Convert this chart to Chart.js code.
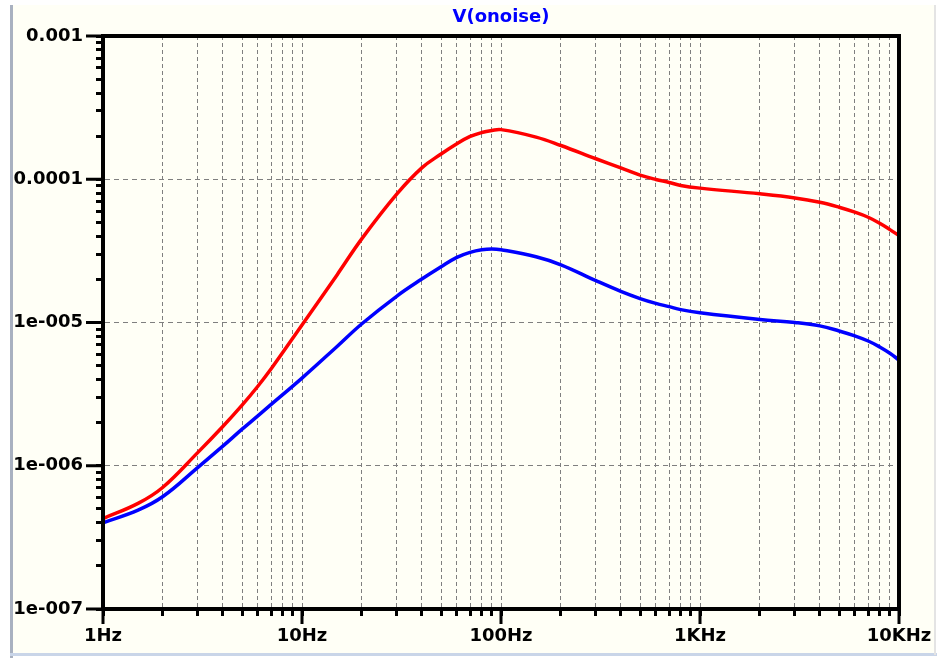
<!DOCTYPE html>
<html>
<head>
<meta charset="utf-8">
<title>V(onoise)</title>
<script src="https://cdn.jsdelivr.net/npm/chart.js@4.4.1/dist/chart.umd.min.js"></script>
<style>
  html, body { margin: 0; padding: 0; background: #ffffff; }
  #wrap { width: 937px; height: 658px; position: relative; }
</style>
</head>
<body>
<div id="wrap"><canvas id="noiseChart"></canvas></div>
<script>
// frequency points (Hz)
const freqHz = [1, 1.5, 2, 3, 4, 5, 6, 7, 10, 15, 20, 30, 40, 50, 60, 70, 80, 90, 100,
  150, 200, 300, 400, 500, 600, 700, 800, 1000, 2000, 3000, 4000, 5000, 6000, 7000, 8000, 9000, 10000];

// red trace
const noiseRed = [4.28e-7, 5.46e-7, 7.08e-7, 1.24e-6, 1.88e-6, 2.65e-6, 3.59e-6, 4.75e-6, 9.6e-6, 2.15e-5, 3.85e-5,
  7.9e-5, 1.2e-4, 1.5e-4, 1.77e-4, 1.99e-4, 2.12e-4, 2.19e-4, 2.22e-4,
  1.97e-4, 1.72e-4, 1.39e-4, 1.20e-4, 1.07e-4, 9.97e-5, 9.5e-5, 9.05e-5, 8.67e-5,
  7.91e-5, 7.41e-5, 6.91e-5, 6.38e-5, 5.89e-5, 5.43e-5, 4.93e-5, 4.45e-5, 4.04e-5];

// blue trace
const noiseBlue = [4.0e-7, 4.9e-7, 6.1e-7, 9.75e-7, 1.37e-6, 1.8e-6, 2.23e-6, 2.68e-6, 4.09e-6, 6.8e-6, 9.8e-6,
  1.53e-5, 2.01e-5, 2.45e-5, 2.85e-5, 3.09e-5, 3.22e-5, 3.26e-5, 3.22e-5,
  2.88e-5, 2.53e-5, 1.96e-5, 1.65e-5, 1.47e-5, 1.36e-5, 1.29e-5, 1.23e-5, 1.17e-5,
  1.05e-5, 1.0e-5, 9.47e-6, 8.73e-6, 8.06e-6, 7.43e-6, 6.75e-6, 6.1e-6, 5.47e-6];

// axis decades + their labels
const xDecades = [1, 10, 100, 1000, 10000];
const xLabels = ['1Hz', '10Hz', '100Hz', '1KHz', '10KHz'];
const yDecades = [1e-7, 1e-6, 1e-5, 1e-4, 1e-3];
const yLabels = ['1e-007', '1e-006', '1e-005', '0.0001', '0.001'];

const labelFont = { family: 'DejaVu Sans', size: 18, weight: 'bold' };
const gridGrey = '#7f7f7f';

// 1..9 ticks in every decade
function logTicks(decades) {
  const ticks = [];
  decades.forEach((d, i) => {
    ticks.push({ value: d, major: true });
    if (i < decades.length - 1) {
      for (let k = 2; k <= 9; k++) ticks.push({ value: d * k, major: false });
    }
  });
  return ticks;
}

function toPoints(ys) {
  return freqHz.map((f, i) => ({ x: f, y: ys[i] }));
}

// window background, frame and the long decade ticks
const plotFrame = {
  id: 'plotFrame',
  beforeDraw(chart) {
    const ctx = chart.ctx;
    const w = chart.width, h = chart.height;
    ctx.save();
    ctx.fillStyle = '#ffffff';
    ctx.fillRect(0, 0, w, h);
    ctx.fillStyle = '#fffff6';
    ctx.fillRect(12, 5, w - 14, h - 8);
    ctx.fillStyle = '#a9b1c0';
    ctx.fillRect(10, 5, 3, h - 5);
    ctx.fillStyle = '#c9d5e8';
    ctx.fillRect(10, h - 5, w - 10, 3);
    ctx.fillStyle = '#e4e4e4';
    ctx.fillRect(w - 3, 5, 2, h - 8);
    ctx.restore();
  },
  afterDraw(chart) {
    const ctx = chart.ctx;
    const a = chart.chartArea;
    const xs = chart.scales.x, ys = chart.scales.y;
    ctx.save();
    ctx.strokeStyle = '#000000';
    ctx.lineWidth = 4;
    ctx.strokeRect(a.left, a.top, a.right - a.left, a.bottom - a.top);
    ctx.lineWidth = 3;
    ctx.beginPath();
    xDecades.forEach(v => {
      const px = xs.getPixelForValue(v);
      ctx.moveTo(px, a.bottom);
      ctx.lineTo(px, a.bottom + 15);
    });
    yDecades.forEach(v => {
      const py = ys.getPixelForValue(v);
      ctx.moveTo(a.left - 17, py);
      ctx.lineTo(a.left, py);
    });
    ctx.stroke();
    ctx.restore();
  }
};

const config = {
  type: 'line',
  data: {
    datasets: [{
      label: 'red',
      data: toPoints(noiseRed),
      borderColor: '#ff0000',
      borderWidth: 3.5,
      pointRadius: 0,
      tension: 0.4,
      fill: false
    }, {
      label: 'blue',
      data: toPoints(noiseBlue),
      borderColor: '#0000ff',
      borderWidth: 3.5,
      pointRadius: 0,
      tension: 0.4,
      fill: false
    }]
  },
  options: {
    responsive: true,
    maintainAspectRatio: false,
    animation: false,
    events: [],
    layout: { padding: { left: 0, right: 38, top: 0, bottom: 0 } },
    plugins: {
      legend: { display: false },
      tooltip: { enabled: false },
      title: {
        display: true,
        text: 'V(onoise)',
        fullSize: false,
        color: '#0000ff',
        font: { family: 'DejaVu Sans', size: 18, weight: 'bold', lineHeight: 1.2 },
        padding: { top: 7, bottom: 7.4 }
      }
    },
    scales: {
      x: {
        type: 'logarithmic',
        position: 'bottom',
        min: 1,
        max: 10000,
        afterBuildTicks: s => { s.ticks = logTicks(xDecades); },
        afterFit: s => {
          s.height = 49;
          // keep the edge labels from pushing the plot inwards
          s.paddingLeft = 0;
          s.paddingRight = 0;
        },
        grid: {
          color: gridGrey,
          lineWidth: 1,
          tickColor: '#000000',
          tickWidth: 3,
          tickLength: 7
        },
        border: { display: true, color: '#000000', width: 4, dash: [4, 3] },
        ticks: {
          autoSkip: false,
          maxRotation: 0,
          padding: 10,
          color: '#000000',
          font: labelFont,
          callback: v => {
            const i = xDecades.indexOf(v);
            return i >= 0 ? xLabels[i] : '';
          }
        }
      },
      y: {
        type: 'logarithmic',
        min: 1e-7,
        max: 1e-3,
        afterBuildTicks: s => { s.ticks = logTicks(yDecades); },
        afterFit: s => { s.width = 103; },
        grid: {
          color: c => (c.tick && c.tick.major) ? gridGrey : 'rgba(0,0,0,0)',
          lineWidth: 1,
          tickColor: '#000000',
          tickWidth: 3,
          tickLength: 7
        },
        border: { display: true, color: '#000000', width: 4, dash: [5, 4] },
        ticks: {
          autoSkip: false,
          padding: 13,
          color: '#000000',
          font: labelFont,
          callback: v => {
            const i = yDecades.indexOf(v);
            return i >= 0 ? yLabels[i] : '';
          }
        }
      }
    }
  },
  plugins: [plotFrame]
};

const noiseChart = new Chart(document.getElementById('noiseChart'), config);
</script>
</body>
</html>
